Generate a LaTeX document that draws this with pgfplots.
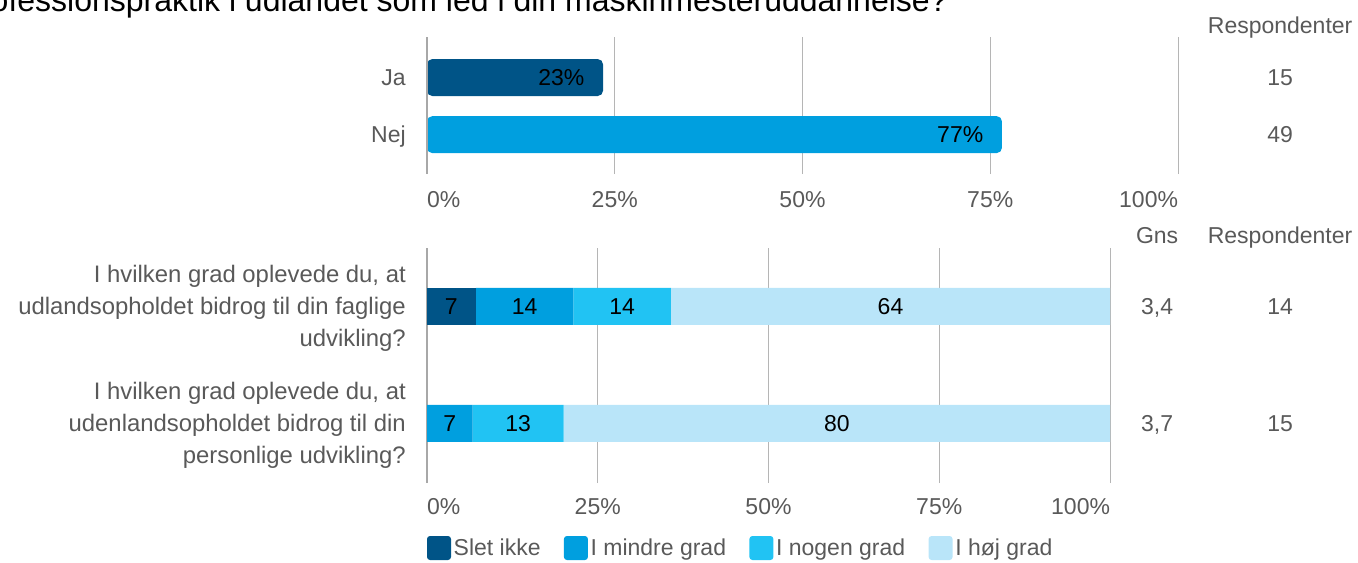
\documentclass[border=0pt]{standalone}
\usepackage{pgfplots}
\usepackage{pgfplotstable}
\pgfplotsset{compat=1.18}
\usepackage{fontspec}
\setmainfont{Liberation Sans}
\definecolor{c1}{HTML}{005487}
\definecolor{c2}{HTML}{009FDF}
\definecolor{c3}{HTML}{21C3F3}
\definecolor{c4}{HTML}{B9E5F9}
\definecolor{txtgray}{HTML}{595959}
\definecolor{gridgray}{HTML}{B5B5B5}
\definecolor{axgray}{HTML}{A8A8A8}
\newcommand{\lblfont}{\fontsize{17.25}{24}\selectfont}
\newcommand{\qfont}{\fontsize{17.9}{24}\selectfont}

\pgfplotstableread{
y  a     b     c     d
2  7.14  14.29 14.29 64.29
1  0     6.67  13.33 80.00
}\grad

\pgfplotsset{
  /pgf/number format/assume math mode=true,
  common/.style={
    scale only axis,
    xmin=0, xmax=100,
    xtick={0,25,50,75,100},
    xticklabels={\makebox[0pt][l]{0\%},25\%,50\%,75\%,\makebox[0pt][r]{100\%}},
    xmajorgrids,
    grid style={gridgray, line width=0.75pt},
    axis line style={draw=none},
    major tick length=0pt,
    tick label style={font=\lblfont, text=txtgray},
    ytick={1,2},
    clip=false,
  }
}

\begin{document}
\begin{tikzpicture}
\useasboundingbox (0,0) rectangle (1018.5pt,421.5pt);
\node[anchor=base east, font=\fontsize{24}{28}\selectfont, inner sep=0pt] at (711pt,412.5pt)
  {Har du været i professionspraktik i udlandet som led i din maskinmesteruddannelse?};

% ---------- top chart ----------
\begin{axis}[
  common,
  at={(320.25pt,291pt)}, anchor=south west,
  width=563.25pt, height=102.75pt,
  xbar, bar shift=0pt, bar width=27.75pt,
  ymin=0.31, ymax=2.71,
  yticklabels={Nej,Ja},
  yticklabel style={anchor=base east, yshift=-6.2pt, xshift=-15.75pt, inner sep=0pt},
  xticklabel style={anchor=center, yshift=-19.5pt},
  point meta=x,
  nodes near coords={\pgfmathprintnumber[fixed,precision=0,assume math mode=true]{\pgfplotspointmeta}\%},
  every node near coord/.append style={anchor=east, xshift=-10.5pt, font=\lblfont, text=black},
]
\addplot[fill=c1, draw=none, rounded corners=4pt] coordinates {(23.44,2)};
\addplot[fill=c2, draw=none, rounded corners=4pt] coordinates {(76.56,1)};
\draw[axgray, line width=1.8pt] (axis description cs:0,0) -- (axis description cs:0,1);
\node[font=\lblfont, text=txtgray, anchor=base, yshift=-6.2pt, inner sep=0pt] at (axis cs:113.6,2.92) {Respondenter};
\node[font=\lblfont, text=txtgray, anchor=base, yshift=-6.2pt, inner sep=0pt] at (axis cs:113.6,2) {15};
\node[font=\lblfont, text=txtgray, anchor=base, yshift=-6.2pt, inner sep=0pt] at (axis cs:113.6,1) {49};
\end{axis}

% ---------- bottom chart ----------
\begin{axis}[
  common,
  at={(320.25pt,59.25pt)}, anchor=south west,
  width=512.25pt, height=176.25pt,
  xbar stacked, bar width=27.75pt,
  ymin=0.49, ymax=2.5,
  yticklabels={{I hvilken grad oplevede du, at\\udenlandsopholdet bidrog til din\\personlige udvikling?},
               {I hvilken grad oplevede du, at\\udlandsopholdet bidrog til din faglige\\udvikling?}},
  yticklabel style={anchor=east, align=right, font=\qfont, yshift=-1.5pt, xshift=-15.75pt, inner sep=0pt},
  xticklabel style={anchor=center, yshift=-18pt},
  nodes near coords={\pgfmathfloatifflags{\pgfplotspointmeta}{0}{}{\pgfmathprintnumber[fixed,precision=0,assume math mode=true]{\pgfplotspointmeta}}},
  every node near coord/.append style={anchor=center, font=\lblfont, text=black},
  legend style={at={(axis description cs:0,-0.2766)}, anchor=west, draw=none, fill=none,
    inner sep=0pt, outer sep=0pt, font=\lblfont, text=txtgray,
    legend columns=4, /tikz/every even column/.append style={column sep=15.5pt}},
  legend image code/.code={\fill[#1, draw=none, rounded corners=2.25pt] (0pt,-9pt) rectangle (18pt,9pt);},
]
\addplot[fill=c1, draw=none, point meta=\thisrow{a}] table[x=a,y=y]{\grad};
\addplot[fill=c2, draw=none, point meta=\thisrow{b}] table[x=b,y=y]{\grad};
\addplot[fill=c3, draw=none, point meta=\thisrow{c}] table[x=c,y=y]{\grad};
\addplot[fill=c4, draw=none, point meta=\thisrow{d}] table[x=d,y=y]{\grad};
\legend{Slet ikke, I mindre grad, I nogen grad, I høj grad}
\draw[axgray, line width=1.8pt] (axis description cs:0,0) -- (axis description cs:0,1);
\node[font=\lblfont, text=txtgray, anchor=base, yshift=-6.2pt, inner sep=0pt] at (axis cs:106.9,2.611) {Gns};
\node[font=\lblfont, text=txtgray, anchor=base, yshift=-6.2pt, inner sep=0pt] at (axis cs:124.9,2.611) {Respondenter};
\node[font=\lblfont, text=txtgray, anchor=base, yshift=-6.2pt, inner sep=0pt] at (axis cs:106.9,2) {3,4};
\node[font=\lblfont, text=txtgray, anchor=base, yshift=-6.2pt, inner sep=0pt] at (axis cs:124.9,2) {14};
\node[font=\lblfont, text=txtgray, anchor=base, yshift=-6.2pt, inner sep=0pt] at (axis cs:106.9,1) {3,7};
\node[font=\lblfont, text=txtgray, anchor=base, yshift=-6.2pt, inner sep=0pt] at (axis cs:124.9,1) {15};
\end{axis}
\end{tikzpicture}
\end{document}
